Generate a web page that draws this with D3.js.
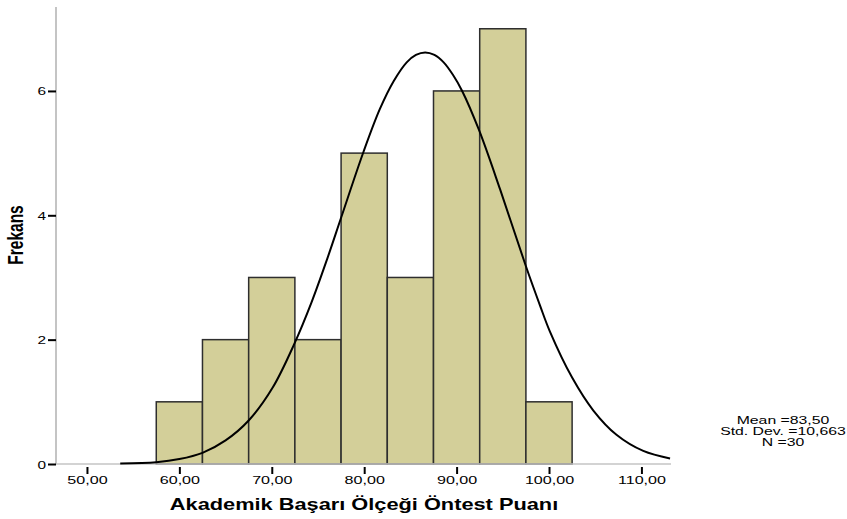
<!DOCTYPE html>
<html>
<head>
<meta charset="utf-8">
<script src="https://cdn.jsdelivr.net/npm/d3@7"></script>
<style>
html,body{margin:0;padding:0;background:#fff;}
svg{display:block;font-family:"Liberation Sans",Arial,sans-serif;}
</style>
</head>
<body>
<svg id="chart" width="847" height="519"></svg>
<script>
// ---- data ----
const binStarts = [57.5, 62.5, 67.5, 72.5, 77.5, 82.5, 87.5, 92.5, 97.5];
const binCounts = [1, 2, 3, 2, 5, 3, 6, 7, 1];
const binWidth = 5;
const xTicks = [50, 60, 70, 80, 90, 100, 110];
const yTicks = [0, 2, 4, 6];
// normal curve, points
const curveX = [53.6, 57.5, 60.0, 62.5, 65.0, 67.5, 70.1, 72.4, 74.3, 76.0, 77.5, 79.9, 81.7, 83.2, 84.6, 85.6, 86.6, 87.6, 88.6, 89.6, 90.6, 92.4, 94.7, 97.5, 99.0, 100.1, 102.5, 104.8, 107.3, 110.2, 113.1];
const curveY = [0.01, 0.03, 0.08, 0.18, 0.38, 0.70, 1.23, 1.92, 2.60, 3.30, 3.96, 5.01, 5.71, 6.16, 6.46, 6.58, 6.62, 6.58, 6.46, 6.26, 6.00, 5.38, 4.42, 3.18, 2.56, 2.13, 1.39, 0.86, 0.47, 0.21, 0.09];
const statLines = ["Mean =83,50", "Std. Dev. =10,663", "N =30"];
const xTitle = "Akademik Başarı Ölçeği Öntest Puanı";
const yTitle = "Frekans";

// ---- layout ----
const svg = d3.select("#chart");
const SX = 1.4; // horizontal stretch of text in original
const x = d3.scaleLinear().domain([46.65, 113.2]).range([56, 671]);
const y = d3.scaleLinear().domain([0, 7.35]).range([464, 7]);
const fmt = v => d3.format(".2f")(v).replace(".", ",");

// bars
svg.append("g").selectAll("rect").data(binStarts).join("rect")
  .attr("x", (d) => x(d))
  .attr("y", (d, i) => y(binCounts[i]))
  .attr("width", d => x(d + binWidth) - x(d))
  .attr("height", (d, i) => y(0) - y(binCounts[i]))
  .attr("fill", "#d3cf99")
  .attr("stroke", "#2e2e2e")
  .attr("stroke-width", 1.5);

// axes lines
svg.append("line").attr("x1", x.range()[0]).attr("x2", x.range()[1])
  .attr("y1", y(0)).attr("y2", y(0)).attr("stroke", "#c4c4c4").attr("stroke-width", 1.5);
svg.append("line").attr("x1", x.range()[0]).attr("x2", x.range()[0])
  .attr("y1", y.range()[1]).attr("y2", y(0)).attr("stroke", "#c4c4c4").attr("stroke-width", 2);

// y axis
const yAxis = d3.axisLeft(y).tickValues(yTicks).tickSize(8).tickFormat(d3.format("d"));
const gy = svg.append("g").attr("transform", `translate(${x.range()[0]},0)`).call(yAxis);
gy.select(".domain").remove();
gy.selectAll(".tick line").attr("stroke", "#000").attr("stroke-width", 2);
gy.selectAll(".tick text").attr("font-size", 11).attr("fill", "#000")
  .attr("x", null).attr("dy", null).attr("text-anchor", "end")
  .attr("transform", `translate(-10,4) scale(${SX},1)`);

// x axis
const xAxis = d3.axisBottom(x).tickValues(xTicks).tickSize(8).tickFormat(fmt);
const gx = svg.append("g").attr("transform", `translate(0,${y(0) + 1})`).call(xAxis);
gx.select(".domain").remove();
gx.selectAll(".tick line").attr("stroke", "#000").attr("stroke-width", 2).attr("y1", 2).attr("y2", 9);
gx.selectAll(".tick text").attr("font-size", 11.5).attr("fill", "#000")
  .attr("y", null).attr("dy", null)
  .attr("transform", `translate(0,19) scale(${SX},1)`);

// normal curve
const pts = curveX.map((v, i) => [v, curveY[i]]);
svg.append("path").datum(pts)
  .attr("fill", "none").attr("stroke", "#000").attr("stroke-width", 2)
  .attr("d", d3.line().x(d => x(d[0])).y(d => y(d[1])).curve(d3.curveCatmullRom.alpha(0.5)));

// titles
svg.append("text").text(xTitle)
  .attr("font-size", 16.5).attr("font-weight", "bold").attr("text-anchor", "middle")
  .attr("transform", `translate(364,510) scale(1.32,1)`);
svg.append("text").text(yTitle)
  .attr("font-size", 15.5).attr("font-weight", "bold").attr("text-anchor", "middle")
  .attr("transform", `translate(23,235) rotate(-90) scale(1,${SX})`);

// stats
svg.append("g").selectAll("text").data(statLines).join("text")
  .text(d => d)
  .attr("font-size", 10).attr("text-anchor", "middle")
  .attr("transform", (d, i) => `translate(783,${424 + i * 11}) scale(1.58,1)`);
</script>
</body>
</html>
